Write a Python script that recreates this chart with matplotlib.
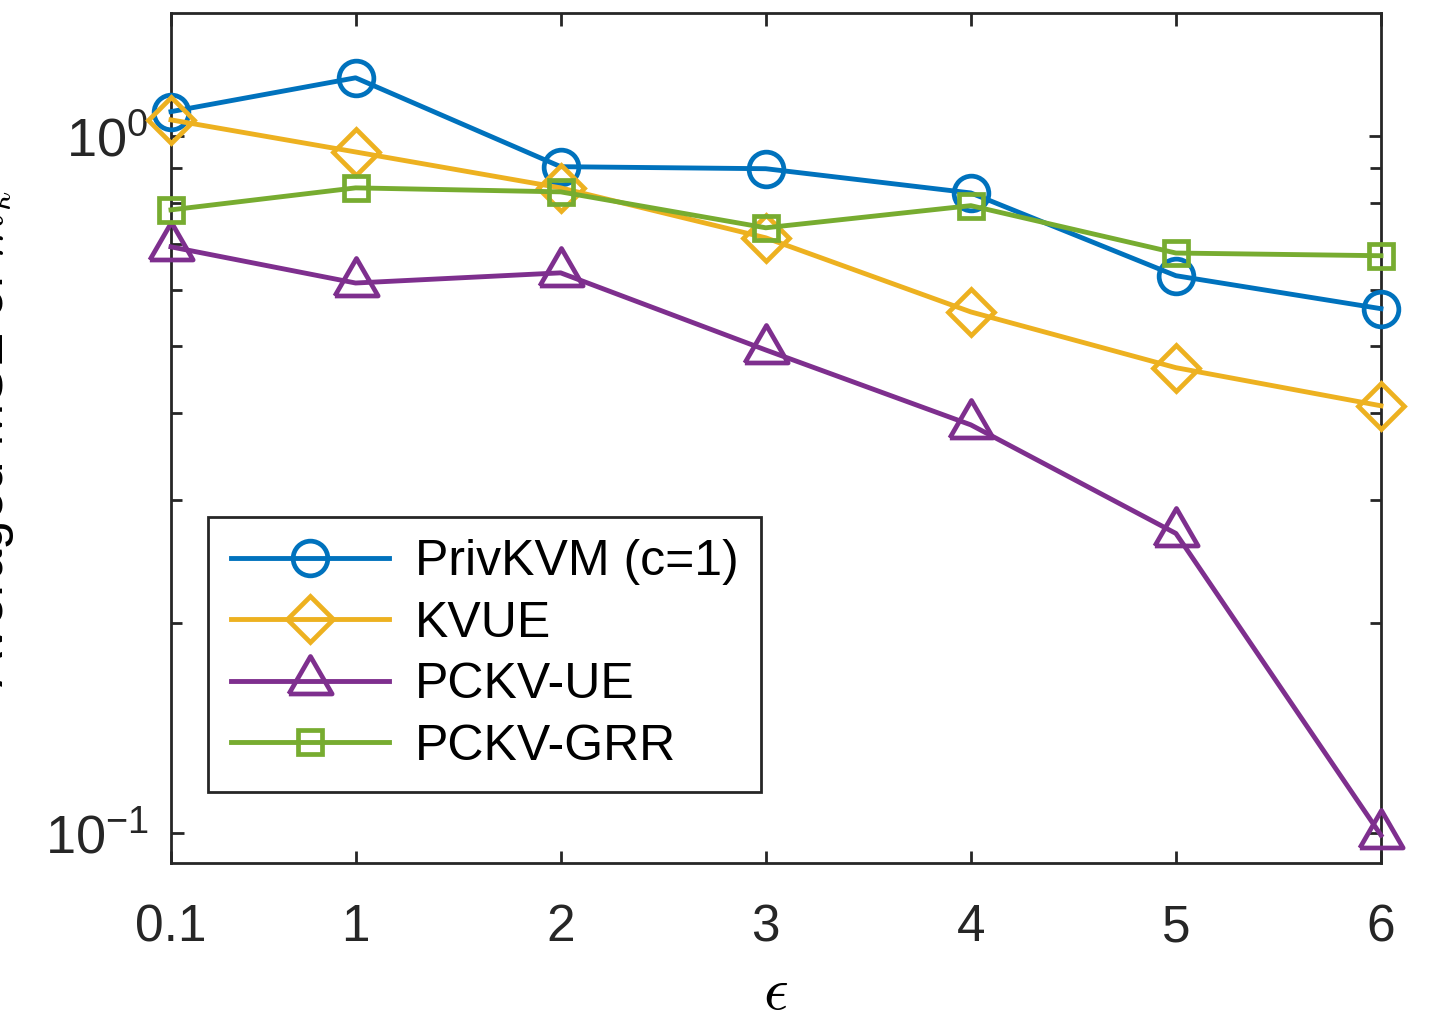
import matplotlib
matplotlib.use('Agg')
import matplotlib.pyplot as plt
from matplotlib.ticker import LogLocator, NullFormatter

plt.rcParams['font.family'] = ['Liberation Sans', 'DejaVu Sans']
plt.rcParams['mathtext.fontset'] = 'cm'

eps = [0.1, 1, 2, 3, 4, 5, 6]
eps_labels = ['0.1', '1', '2', '3', '4', '5', '6']

privkvm = [1.083, 1.211, 0.903, 0.897, 0.828, 0.630, 0.565]
kvue = [1.054, 0.948, 0.842, 0.714, 0.559, 0.465, 0.410]
pckv_ue = [0.693, 0.615, 0.636, 0.493, 0.385, 0.269, 0.0993]
pckv_grr = [0.783, 0.842, 0.831, 0.738, 0.794, 0.679, 0.673]

# equilateral triangle, centroid at origin (MATLAB style)
tri = [(-1, -0.577), (1, -0.577), (0, 1.155), (-1, -0.577)]

series = [
    ('PrivKVM (c=1)', privkvm, '#0072BD', 'o', 25),
    ('KVUE', kvue, '#EDB120', 'D', 23),
    ('PCKV-UE', pckv_ue, '#7E2F8E', tri, 36),
    ('PCKV-GRR', pckv_grr, '#77AC30', 's', 17),
]

fig = plt.figure(figsize=(14.4, 10.24), dpi=100)
ax = fig.add_axes([171 / 1440, 1 - 863 / 1024, 1210 / 1440, 850 / 1024])

for name, vals, col, mk, ms in series:
    ax.plot(eps, vals, color=col, lw=3.5, marker=mk, ms=ms,
            markerfacecolor='none', markeredgecolor=col, markeredgewidth=3.4,
            label=name, clip_on=False, zorder=3)

ax.set_yscale('log')
ax.set_xlim(0.1, 6)
ax.set_ylim(0.0906, 1.50)
ax.set_xticks(eps)
ax.set_xticklabels(eps_labels)
ax.yaxis.set_major_locator(LogLocator(base=10, numticks=10))
ax.yaxis.set_minor_locator(LogLocator(base=10, subs=range(2, 10), numticks=20))
ax.yaxis.set_minor_formatter(NullFormatter())

axcol = '#262626'
for s in ax.spines.values():
    s.set_color(axcol)
    s.set_linewidth(2)
ax.tick_params(which='both', direction='in', top=True, right=True,
               colors=axcol, width=2)
ax.tick_params(which='major', length=9)
ax.tick_params(which='minor', length=8)
ax.tick_params(axis='x', labelsize=37, pad=29, labelcolor=axcol)
ax.tick_params(axis='y', labelsize=39, pad=16, labelcolor=axcol)

ax.set_xlabel(r'$\epsilon$', fontsize=44, labelpad=9)
fig.text(16 / 1440, 0.572, r'Averaged MSE of $\tilde{m}_k$', rotation=90,
         ha='right', va='center', fontsize=38)

leg = ax.legend(loc='lower left', bbox_to_anchor=(0.0306, 0.0835),
                borderaxespad=0, fontsize=36, handlelength=3.16,
                handletextpad=0.52, borderpad=0.45, labelspacing=0.31,
                fancybox=False, framealpha=1, edgecolor=axcol)
leg.get_frame().set_linewidth(2)

fig.savefig('out.png', dpi=100)
